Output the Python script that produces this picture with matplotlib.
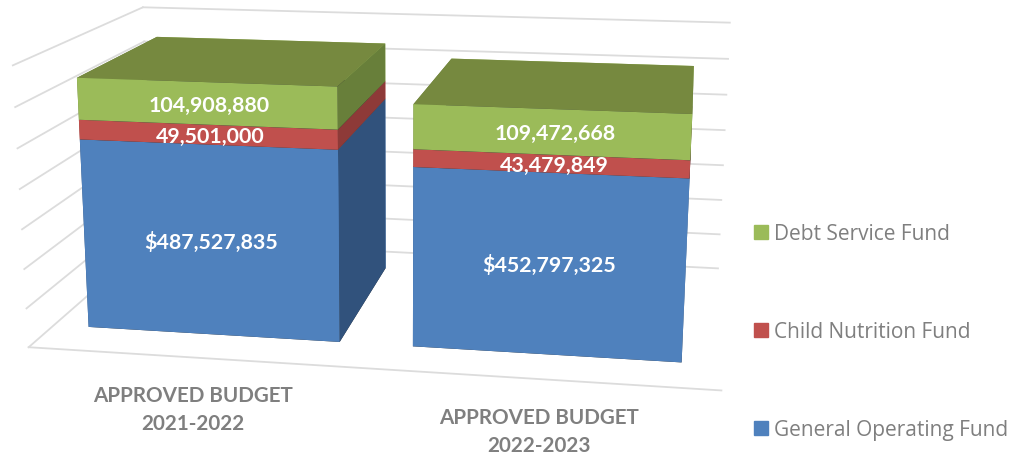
import matplotlib
matplotlib.use("Agg")
import matplotlib.pyplot as plt
from matplotlib.patches import Patch

categories = ["APPROVED BUDGET\n2021-2022", "APPROVED BUDGET\n2022-2023"]
series_names = ["General Operating Fund", "Child Nutrition Fund", "Debt Service Fund"]
general_operating = [487527835, 452797325]
child_nutrition = [49501000, 43479849]
debt_service = [104908880, 109472668]
value_labels = [["$487,527,835", "$452,797,325"],
                ["49,501,000", "43,479,849"],
                ["104,908,880", "109,472,668"]]
grid_values = [0, 100e6, 200e6, 300e6, 400e6, 500e6, 600e6, 700e6]

# front, top, side colours per series
colors = [("#4F81BD", "#3F6797", "#31527C"),
          ("#C0504D", "#9A403E", "#8E3A38"),
          ("#9BBB59", "#76893F", "#687F3A")]
grid_color = "#DCDCDC"
text_gray = "#7F7F7F"

W, H = 1013, 456
fig = plt.figure(figsize=(W / 100, H / 100), dpi=100)
S = 768
cx, cy = 398, 198
off = S * 0.0025 / 0.185
ax = fig.add_axes([(cx - off - S / 2) / W, (H - cy + off - S / 2) / H, S / W, S / H],
                  projection="3d", computed_zorder=False)
ax.set_proj_type("persp", focal_length=0.405)
ax.view_init(elev=14, azim=-80)
ax.set_box_aspect((722, 415, 303))
ax.set_xlim(0, 2)
ax.set_ylim(0, 1)
ax.set_zlim(0, grid_values[-1])
ax.set_axis_off()
ax.patch.set_alpha(0)

for v in grid_values:
    ax.plot([0, 2], [1, 1], [v, v], color=grid_color, lw=1.3, zorder=1)
    ax.plot([0, 0], [0, 1], [v, v], color=grid_color, lw=1.3, zorder=1)
ax.plot([0, 2], [0, 0], [0, 0], color=grid_color, lw=1.3, zorder=1)

bar_w = 0.78
y0, depth = 0.177, 0.656
z = 2
for i in range(len(categories)):
    base = 0
    for s, vals in enumerate([general_operating, child_nutrition, debt_service]):
        front, top, side = colors[s]
        face = ["#333333", top, front, front, side, side]
        ax.bar3d([i + 0.5 - bar_w / 2], [y0], [base], bar_w, depth, vals[i],
                 color=face, shade=False, zorder=z, linewidth=0)
        z += 1
        base += vals[i]

lab_pos = [[(211, 242), (549.5, 265)], [(210, 137), (554, 166)], [(209, 106), (555, 134)]]
for s, row in enumerate(value_labels):
    for i, t in enumerate(row):
        px, py = lab_pos[s][i]
        fig.text(px / W, 1 - py / H, t, color="white", fontsize=15.4, fontweight="bold",
                 family="Lato", ha="center", va="center")

cat_pos = [(193, 410), (539, 432)]
for c, (px, py) in zip(categories, cat_pos):
    fig.text(px / W, 1 - py / H, c, color=text_gray, fontsize=14.9, fontweight="bold",
             family="Lato", ha="center", va="center", linespacing=1.55)

handles = [Patch(color=colors[s][0]) for s in (2, 1, 0)]
leg = fig.legend(handles, [series_names[s] for s in (2, 1, 0)], loc="upper left",
                 bbox_to_anchor=(754 / W, 1 - 224.5 / H), frameon=False,
                 prop={"family": "Open Sans", "size": 15}, labelcolor=text_gray,
                 labelspacing=3.69, handlelength=0.67, handleheight=0.67, handletextpad=0.3,
                 borderpad=0, borderaxespad=0)

fig.savefig("out.png", dpi=100)
